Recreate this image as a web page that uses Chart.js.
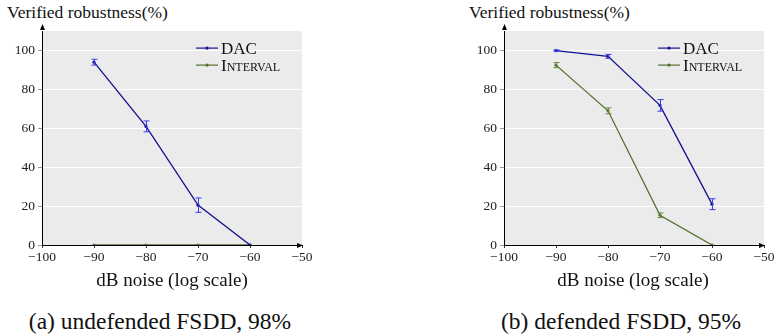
<!DOCTYPE html>
<html>
<head>
<meta charset="utf-8">
<script src="https://cdn.jsdelivr.net/npm/chart.js@4"></script>
<style>
  body { margin: 0; background: #fff; overflow: hidden; width: 774px; height: 335px; position: relative; color: #111; }
  canvas { position: absolute; }
  .txt { position: absolute; white-space: nowrap; line-height: 1; font-family: "Liberation Serif"; }
  .ylab { font-size: 17.5px; top: 4px; }
  .xlab { font-size: 19px; top: 270px; transform: translateX(-50%); }
  .cap { font-size: 23.5px; top: 310px; transform: translateX(-50%); }
</style>
</head>
<body>
<div class="txt ylab" style="left:7px">Verified robustness(%)</div>
<div class="txt ylab" style="left:469px">Verified robustness(%)</div>
<canvas id="undefended" width="330" height="270" style="left:0px;top:20px"></canvas>
<canvas id="defended" width="330" height="270" style="left:462px;top:20px"></canvas>
<div class="txt xlab" style="left:172px">dB noise (log scale)</div>
<div class="txt xlab" style="left:633px">dB noise (log scale)</div>
<div class="txt cap" style="left:160px">(a) undefended FSDD, 98%</div>
<div class="txt cap" style="left:621px">(b) defended FSDD, 95%</div>
<script>
const noiseDb = [-90, -80, -70, -60];
const xTicks = [-100, -90, -80, -70, -60, -50];
const yTicks = [0, 20, 40, 60, 80, 100];
const seriesNames = ['DAC', 'Interval'];

// (a) undefended
const undefDac = [94, 61, 20.5, 0];
const undefDacErr = [1.5, 2.8, 3.7, 0];
const undefInterval = [0, 0, 0, 0];
const undefIntervalErr = [0, 0, 0, 0];

// (b) defended
const defDac = [100, 97, 71.8, 21];
const defDacErr = [0.3, 1, 3, 2.8];
const defInterval = [92.5, 69, 15.3, 0];
const defIntervalErr = [1.3, 1.5, 1.2, 0];

const dacColor = '#12128f';
const dacErrColor = '#3b3bf0';
const intColor = '#557030';
const intErrColor = '#6a8a3a';
const serif = "'Liberation Serif'";

const fmt = v => v < 0 ? '\u2212' + Math.abs(v) : String(v);

const plotBg = {
  id: 'plotBg',
  beforeDraw(chart) {
    const { ctx, chartArea: a } = chart;
    ctx.save();
    ctx.fillStyle = '#ebebeb';
    ctx.fillRect(a.left, a.top, a.right - a.left, a.bottom - a.top);
    ctx.restore();
  }
};

const errorBars = {
  id: 'errorBars',
  afterDatasetsDraw(chart) {
    const { ctx } = chart;
    const xs = chart.scales.x, ys = chart.scales.y;
    chart.data.datasets.forEach(ds => {
      ctx.save();
      ctx.strokeStyle = ds.errColor;
      ctx.lineWidth = 1;
      ds.data.forEach((p, i) => {
        const e = ds.errors[i];
        if (!e) return;
        const x = Math.round(xs.getPixelForValue(p.x)) + 0.5;
        const y1 = ys.getPixelForValue(p.y + e);
        const y2 = ys.getPixelForValue(p.y - e);
        ctx.beginPath();
        ctx.moveTo(x, y1); ctx.lineTo(x, y2);
        ctx.moveTo(x - 3, y1); ctx.lineTo(x + 3, y1);
        ctx.moveTo(x - 3, y2); ctx.lineTo(x + 3, y2);
        ctx.stroke();
      });
      ctx.restore();
    });
  }
};

const axisArrows = {
  id: 'axisArrows',
  afterDraw(chart) {
    const { ctx, chartArea: a } = chart;
    ctx.save();
    ctx.fillStyle = '#000';
    const l = a.left + 0.5, b = a.bottom + 0.5;
    ctx.beginPath();
    ctx.moveTo(l, a.top - 7); ctx.lineTo(l - 2.5, a.top - 1); ctx.lineTo(l + 2.5, a.top - 1); ctx.closePath();
    ctx.fill();
    ctx.beginPath();
    ctx.moveTo(a.right + 1, b); ctx.lineTo(a.right - 5, b - 2.5); ctx.lineTo(a.right - 5, b + 2.5); ctx.closePath();
    ctx.fill();
    ctx.restore();
  }
};

const legendBox = {
  id: 'legendBox',
  afterDraw(chart) {
    const { ctx, chartArea: a } = chart;
    ctx.save();
    chart.data.datasets.forEach((ds, i) => {
      const x0 = a.left + 154, y = a.top + 17 + i * 17;
      ctx.strokeStyle = ds.borderColor;
      ctx.lineWidth = 1.2;
      ctx.beginPath(); ctx.moveTo(x0, y); ctx.lineTo(x0 + 22, y); ctx.stroke();
      ctx.fillStyle = ds.borderColor;
      ctx.beginPath(); ctx.arc(x0 + 11, y, 1.6, 0, Math.PI * 2); ctx.fill();
      ctx.fillStyle = '#111';
      ctx.font = '17px ' + serif;
      ctx.fontVariantCaps = 'small-caps';
      ctx.textBaseline = 'middle';
      ctx.fillText(ds.label, x0 + 25, y + 1);
    });
    ctx.restore();
  }
};

const makeChart = (id, dac, dacErr, interval, intervalErr) => {
  const pts = vals => noiseDb.map((x, i) => ({ x, y: vals[i] }));
  return new Chart(document.getElementById(id), {
    type: 'line',
    data: {
      datasets: [
        { label: seriesNames[0], data: pts(dac), errors: dacErr, errColor: dacErrColor,
          borderColor: dacColor, backgroundColor: dacColor, borderWidth: 1.3,
          pointRadius: 1.6, pointBorderWidth: 0 },
        { label: seriesNames[1], data: pts(interval), errors: intervalErr, errColor: intErrColor,
          borderColor: intColor, backgroundColor: intColor, borderWidth: 1.3,
          pointRadius: 1.6, pointBorderWidth: 0 }
      ]
    },
    options: {
      responsive: false,
      animation: false,
      devicePixelRatio: 1,
      layout: { padding: { top: 10, right: 28, left: 0, bottom: 0 } },
      plugins: { legend: { display: false }, tooltip: { enabled: false } },
      scales: {
        x: {
          type: 'linear', min: -100, max: -50,
          afterBuildTicks: s => { s.ticks = xTicks.map(v => ({ value: v })); },
          afterFit: s => { s.height = 45; },
          grid: { drawOnChartArea: false, tickLength: 3, tickColor: '#333' },
          border: { color: '#000', width: 1 },
          ticks: { callback: v => fmt(v), color: '#222', padding: 1, maxRotation: 0,
                   font: { family: serif, size: 13.5 } }
        },
        y: {
          min: 0, max: 110,
          afterBuildTicks: s => { s.ticks = yTicks.map(v => ({ value: v })); },
          afterFit: s => { s.width = 42; },
          grid: { color: '#ffffff', lineWidth: 1, tickLength: 4, tickColor: '#999' },
          border: { color: '#000', width: 1 },
          ticks: { callback: v => fmt(v), color: '#222', padding: 3,
                   font: { family: serif, size: 13.5 } }
        }
      }
    },
    plugins: [plotBg, errorBars, axisArrows, legendBox]
  });
};

document.fonts.load("13px 'Liberation Serif'").then(() => {
  makeChart('undefended', undefDac, undefDacErr, undefInterval, undefIntervalErr);
  makeChart('defended', defDac, defDacErr, defInterval, defIntervalErr);
});
</script>
</body>
</html>
